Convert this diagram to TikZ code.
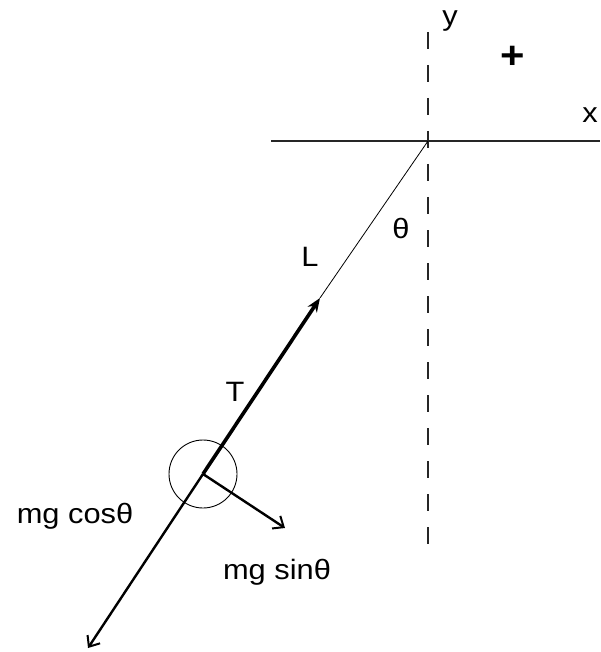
\documentclass[tikz,border=0pt]{standalone}
\usepackage{fontspec}
\setmainfont{Liberation Sans}[FakeStretch=1.1]
\usetikzlibrary{arrows.meta}
\begin{document}
\begin{tikzpicture}[x=1pt,y=-1pt,
  lbl/.style={inner sep=0pt,font=\fontsize{28}{28}\selectfont},
  axis/.style={line width=1.6pt,black!85},
  force/.style={line width=2.4pt},
  openhead/.style={-{Straight Barb[length=9pt,width=15pt,line width=2pt]}}]
\useasboundingbox (0,0) rectangle (600,652);
% reference points
\coordinate (pivot) at (428,141);
\coordinate (bob) at (203,474);
\coordinate (ttip) at (320,298);
\coordinate (costip) at (88,648);
\coordinate (sintip) at (285,528);
\coordinate (xl) at (271,141);
\coordinate (xr) at (600,141);
\coordinate (yt) at (428,32);
\coordinate (yb) at (428,545);
% axes
\draw[axis] (xl) -- (xr);
\draw[axis,dash pattern=on 17pt off 16pt] (yt) -- (yb);
% string
\draw[line width=0.8pt] (ttip) -- (pivot);
% bob
\node[draw,circle,minimum size=68pt,inner sep=0pt,line width=0.9pt] (ball) at (bob) {};
% tension
\draw[line width=3.6pt,-{Stealth[length=14pt,width=11pt]}] (bob) -- (ttip);
% mg cos
\draw[force,openhead] (bob) -- (costip);
% mg sin
\draw[force,openhead] (bob) -- (sintip);
% labels
\node[lbl] (ylab) at (450,21) {y};
\node[lbl] (xlab) at (590,115) {x};
\node[lbl,font=\fontsize{38}{38}\selectfont\bfseries,text depth=0pt] (plus) at (513,57) {+};
\node[lbl] (th) at (401,228) {θ};
\node[lbl] (Llab) at (310,257) {L};
\node[lbl] (Tlab) at (235,392) {T};
\node[lbl] (cosl) at (75,516) {mg cosθ};
\node[lbl] (sinl) at (277,572) {mg sinθ};
\end{tikzpicture}
\end{document}
